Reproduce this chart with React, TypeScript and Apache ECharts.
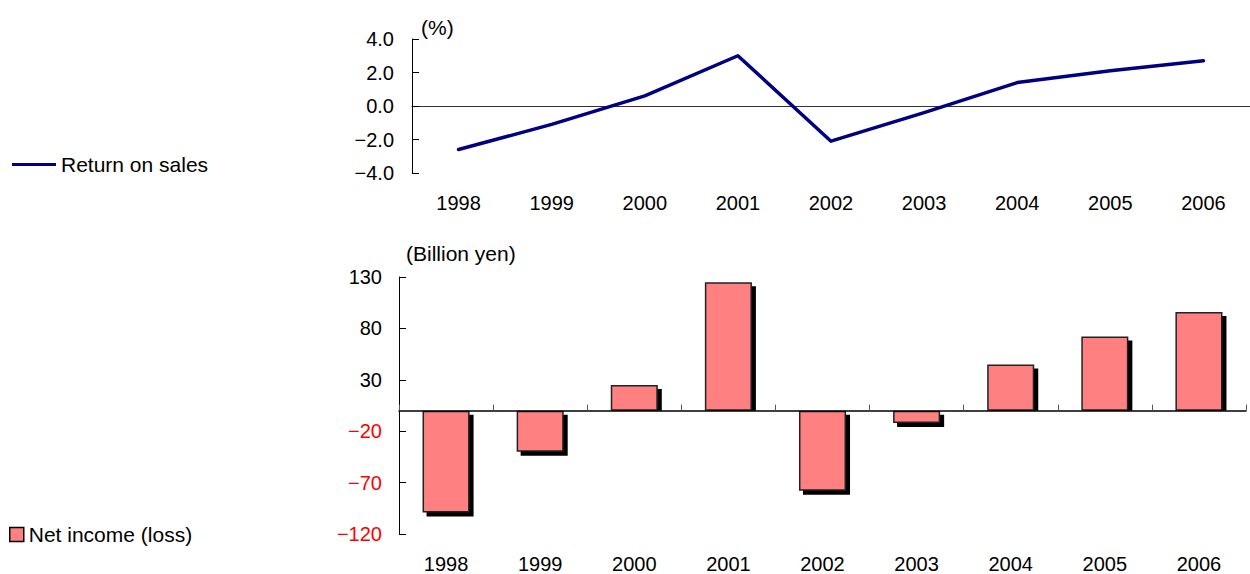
import React, { useEffect, useRef } from "react";
import * as echarts from "echarts";

const years = ["1998", "1999", "2000", "2001", "2002", "2003", "2004", "2005", "2006"];
const returnOnSales = [-2.6, -1.1, 0.6, 3.0, -2.1, -0.4, 1.4, 2.1, 2.7];
const netIncome = [-99, -40, 25, 125, -78, -12, 45, 72, 96];
const rosAxis = { min: -4, max: 4, interval: 2 };
const niAxis = { min: -120, max: 130, interval: 50 };

const FONT = "'Liberation Sans', Arial, sans-serif";
const FS = 20;
const FS2 = 21;

const minus = (s: string) => s.replace("-", "\u2212");

export default function App() {
  const ref = useRef<HTMLDivElement>(null);
  useEffect(() => {
    if (!ref.current) return;
    const chart = echarts.init(ref.current, undefined, { renderer: "svg" });
    const labelAxis = (gridIndex: number) => ({
      gridIndex,
      type: "category",
      data: years,
      position: "bottom",
      axisLine: { show: false, onZero: false },
      axisTick: { show: false },
      splitLine: { show: false },
      axisLabel: { fontSize: FS, fontFamily: FONT, color: "#000", margin: 20 },
    });
    chart.setOption({
      animation: false,
      textStyle: { fontFamily: FONT },
      grid: [
        { left: 412, top: 39, width: 838, height: 134 },
        { left: 399, top: 277, width: 847, height: 258 },
      ],
      xAxis: [
        labelAxis(0),
        {
          gridIndex: 0,
          type: "category",
          data: years,
          position: "bottom",
          axisLine: { show: true, onZero: true, lineStyle: { color: "#333", width: 1 } },
          axisTick: { show: false },
          axisLabel: { show: false },
          splitLine: { show: false },
        },
        labelAxis(1),
        {
          gridIndex: 1,
          type: "category",
          data: years,
          position: "bottom",
          z: 5,
          axisLine: { show: true, onZero: true, lineStyle: { color: "#000", width: 1.5 } },
          axisTick: { show: true, inside: true, length: 6, lineStyle: { color: "#555", width: 1 } },
          axisLabel: { show: false },
          splitLine: { show: false },
        },
      ],
      yAxis: [
        {
          gridIndex: 0,
          type: "value",
          ...rosAxis,
          axisLine: { show: true, onZero: false, lineStyle: { color: "#000", width: 1 } },
          axisTick: { show: true, inside: true, length: 7, lineStyle: { color: "#000" } },
          splitLine: { show: false },
          axisLabel: {
            fontSize: FS,
            fontFamily: FONT,
            color: "#000",
            margin: 18,
            formatter: (v: number) => minus(v.toFixed(1)),
          },
        },
        {
          gridIndex: 1,
          type: "value",
          ...niAxis,
          axisLine: { show: true, onZero: false, lineStyle: { color: "#000", width: 1 } },
          axisTick: { show: true, inside: true, length: 7, lineStyle: { color: "#000" } },
          splitLine: { show: false },
          axisLabel: {
            fontSize: FS,
            fontFamily: FONT,
            margin: 17,
            color: (v: any) => (Number(v) < 0 ? "#ff0000" : "#000"),
            formatter: (v: number) => minus(String(v)),
          },
        },
      ],
      legend: [
        {
          data: ["Return on sales"],
          left: 12,
          top: 154,
          padding: 0,
          icon: "rect",
          itemWidth: 44,
          itemHeight: 3,
          itemGap: 5,
          textStyle: { fontSize: FS2, fontFamily: FONT, color: "#000" },
        },
        {
          data: ["Net income (loss)"],
          left: 9,
          top: 524,
          padding: 0,
          icon: "rect",
          itemWidth: 14,
          itemHeight: 14,
          textStyle: { fontSize: FS2, fontFamily: FONT, color: "#000" },
          itemStyle: { borderColor: "#000", borderWidth: 1.5 },
        },
      ],
      graphic: [
        { type: "text", left: 421, top: 17, style: { text: "(%)", font: `${FS2}px ${FONT}`, fill: "#000" } },
        { type: "text", left: 406, top: 243, style: { text: "(Billion yen)", font: `${FS2}px ${FONT}`, fill: "#000" } },
      ],
      series: [
        {
          name: "Return on sales",
          type: "line",
          xAxisIndex: 0,
          yAxisIndex: 0,
          data: returnOnSales,
          symbol: "none",
          showSymbol: false,
          lineStyle: { color: "#000080", width: 3.5, cap: "round", join: "round" },
          itemStyle: { color: "#000080" },
        },
        {
          name: "shadow",
          type: "custom",
          xAxisIndex: 2,
          yAxisIndex: 1,
          z: 1,
          silent: true,
          data: netIncome.map((v, i) => [i, v]),
          renderItem: (params: any, api: any) => {
            const i = api.value(0);
            const v = api.value(1);
            const c = api.coord([i, v]);
            const z = api.coord([i, 0]);
            const w = api.size([1, 0])[0] * 0.5;
            const x = c[0] - w / 2 + 4;
            let y0: number, y1: number;
            if (v >= 0) {
              y0 = c[1] + 4;
              y1 = z[1];
            } else {
              y0 = z[1] + 4;
              y1 = c[1] + 4;
            }
            return {
              type: "rect",
              shape: { x, y: y0, width: w, height: Math.max(0, y1 - y0) },
              style: { fill: "#000" },
            };
          },
        },
        {
          name: "Net income (loss)",
          type: "bar",
          xAxisIndex: 2,
          yAxisIndex: 1,
          z: 2,
          data: netIncome,
          barWidth: "50%",
          itemStyle: {
            color: "#ff8080",
            borderColor: "#222",
            borderWidth: 1.5,
          },
        },
      ],
    });
    return () => chart.dispose();
  }, []);
  return (
    <div
      ref={ref}
      style={{ position: "absolute", left: 0, top: 0, width: 1250, height: 574, background: "#fff" }}
    />
  );
}
